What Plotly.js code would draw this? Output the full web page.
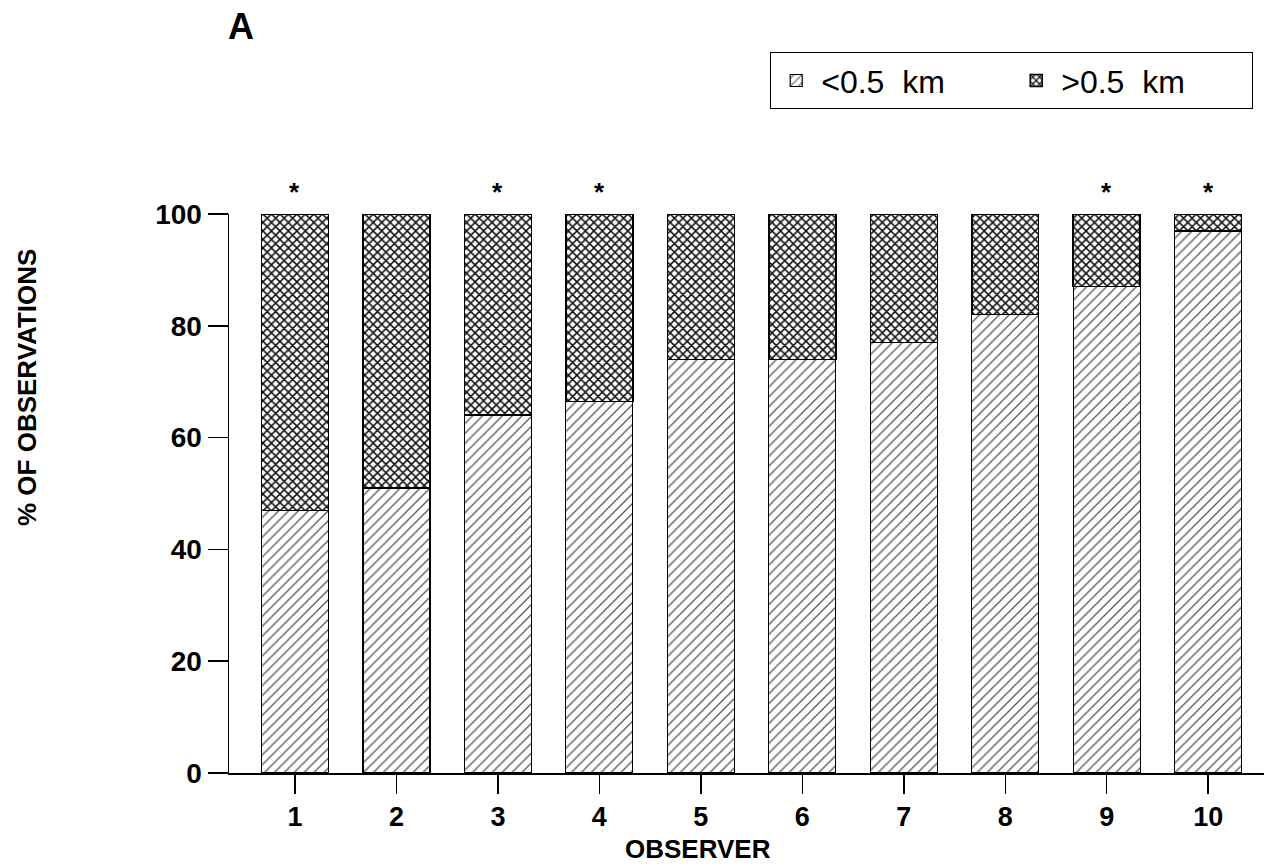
<!DOCTYPE html>
<html>
<head>
<meta charset="utf-8">
<script src="https://cdn.plot.ly/plotly-3.0.1.min.js"></script>
<style>html,body{margin:0;padding:0;background:#fff;}#chart{width:1269px;height:868px;}</style>
</head>
<body>
<div id="chart"></div>
<script>
// Data
const observers = [1, 2, 3, 4, 5, 6, 7, 8, 9, 10];
const tickLabels = ["1", "2", "3", "4", "5", "6", "7", "8", "9", "10"];
const near = [47, 51, 64, 66.5, 74, 74, 77, 82, 87, 97];   // <0.5 km
const far = [53, 49, 36, 33.5, 26, 26, 23, 18, 13, 3];     // >0.5 km
const significant = [true, false, true, true, false, false, false, false, true, true];
const seriesNames = ["<0.5  km", ">0.5  km"];
const yTicks = [0, 20, 40, 60, 80, 100];

const FONT = "Liberation Sans, Arial, Helvetica, sans-serif";

const traces = [
  {
    type: "bar", x: observers, y: near, name: seriesNames[0], width: 0.66,
    marker: { color: "white", line: { color: "#000", width: 1.2 },
      pattern: { shape: "/", fgcolor: "#555", bgcolor: "white", size: 7, solidity: 0.18 } },
    hoverinfo: "y"
  },
  {
    type: "bar", x: observers, y: far, name: seriesNames[1], width: 0.66,
    marker: { color: "white", line: { color: "#000", width: 1.5 },
      pattern: { shape: "x", fgcolor: "#111", bgcolor: "white", size: 6, solidity: 0.45 } },
    hoverinfo: "y"
  }
];

const annotations = [];
observers.forEach((o, i) => {
  if (significant[i]) {
    annotations.push({ x: o, y: near[i] + far[i], xref: "x", yref: "y", text: "*",
      showarrow: false, yshift: 22, font: { family: FONT, size: 26, color: "#000", weight: "bold" } });
  }
});
annotations.push({ text: "A", xref: "paper", yref: "paper", x: (241 - 229) / 1035, y: (773 - 26) / 559,
  xanchor: "center", yanchor: "middle",
  showarrow: false, font: { family: FONT, size: 36, color: "#000", weight: "bold" } });
annotations.push({ text: "OBSERVER", xref: "paper", yref: "paper", x: (698 - 229) / 1035, y: (773 - 849) / 559,
  xanchor: "center", yanchor: "middle",
  showarrow: false, font: { family: FONT, size: 26, color: "#000", weight: "bold" } });
annotations.push({ text: "% OF OBSERVATIONS", xref: "paper", yref: "paper", x: (27 - 229) / 1035, y: (773 - 388) / 559,
  xanchor: "center", yanchor: "middle",
  textangle: -90, showarrow: false, font: { family: FONT, size: 26, color: "#000", weight: "bold" } });

const layout = {
  width: 1269, height: 868,
  margin: { l: 229, r: 5, t: 214, b: 95 },
  paper_bgcolor: "white", plot_bgcolor: "white",
  barmode: "stack",
  showlegend: true,
  legend: {
    orientation: "h", x: (1253 - 229) / 1035, xanchor: "right", y: (773 - 52) / 559, yanchor: "top",
    bordercolor: "#000", borderwidth: 1.2, bgcolor: "white",
    font: { family: FONT, size: 32, color: "#000" }, traceorder: "normal", itemwidth: 40,
    entrywidth: 185, entrywidthmode: "pixels"
  },
  xaxis: {
    range: [0.35, 10.55], tickvals: observers, ticktext: tickLabels,
    showline: true, linecolor: "#000", linewidth: 1.5,
    ticks: "outside", ticklen: 19, tickwidth: 1.5, tickcolor: "#000",
    showgrid: false, zeroline: false,
    tickfont: { family: FONT, size: 27, color: "#000", weight: "bold" }
  },
  yaxis: {
    range: [0, 100], tickvals: yTicks,
    showline: true, linecolor: "#000", linewidth: 1.5,
    ticks: "outside", ticklen: 20, tickwidth: 1.5, tickcolor: "#000",
    showgrid: false, zeroline: false,
    tickfont: { family: FONT, size: 28, color: "#000", weight: "bold" }
  },
  annotations: annotations
};

Plotly.newPlot("chart", traces, layout, { displayModeBar: false, staticPlot: true });
</script>
</body>
</html>
